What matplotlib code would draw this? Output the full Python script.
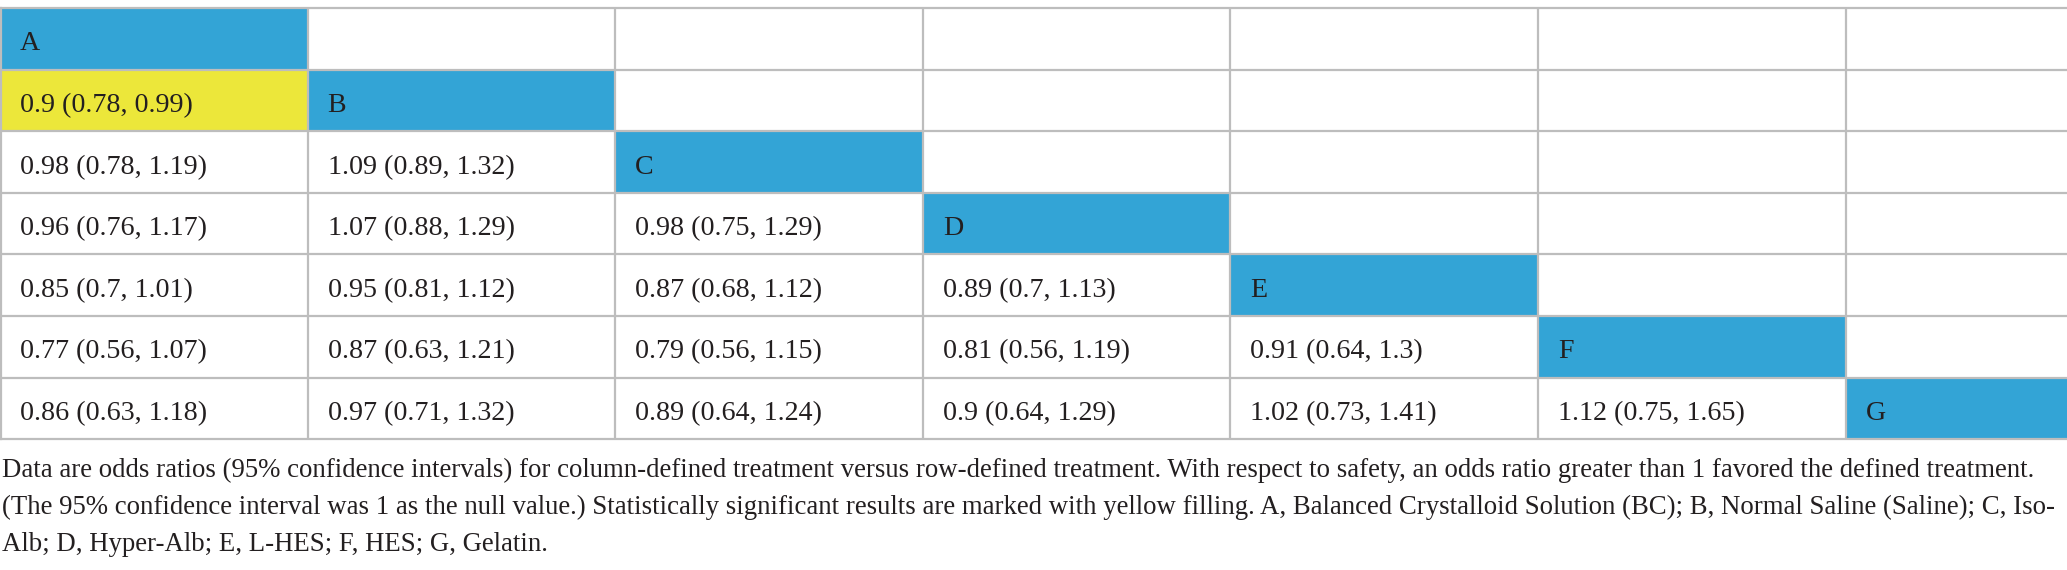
import matplotlib.pyplot as plt
from matplotlib.patches import Rectangle

# treatments (diagonal labels)
tratamentos = ['A', 'B', 'C', 'D', 'E', 'F', 'G']

# odds ratios below the diagonal, one list per row (row B .. row G)
odds = [
    [0.9],
    [0.98, 1.09],
    [0.96, 1.07, 0.98],
    [0.85, 0.95, 0.87, 0.89],
    [0.77, 0.87, 0.79, 0.81, 0.91],
    [0.86, 0.97, 0.89, 0.9, 1.02, 1.12],
]
ic_inf = [
    [0.78],
    [0.78, 0.89],
    [0.76, 0.88, 0.75],
    [0.7, 0.81, 0.68, 0.7],
    [0.56, 0.63, 0.56, 0.56, 0.64],
    [0.63, 0.71, 0.64, 0.64, 0.73, 0.75],
]
ic_sup = [
    [0.99],
    [1.19, 1.32],
    [1.17, 1.29, 1.29],
    [1.01, 1.12, 1.12, 1.13],
    [1.07, 1.21, 1.15, 1.19, 1.3],
    [1.18, 1.32, 1.24, 1.29, 1.41, 1.65],
]

legenda = [
    "Data are odds ratios (95% confidence intervals) for column-defined treatment versus row-defined treatment. "
    "With respect to safety, an odds ratio greater than 1 favored the defined treatment.",
    "(The 95% confidence interval was 1 as the null value.) Statistically significant results are marked with "
    "yellow filling. A, Balanced Crystalloid Solution (BC); B, Normal Saline (Saline); C, Iso-",
    "Alb; D, Hyper-Alb; E, L-HES; F, HES; G, Gelatin.",
]

AZUL = '#33A4D6'
AMARELO = '#ECE73A'
GRADE = '#BDBDBD'
FONTE = 'Liberation Serif'

W, H = 2067, 570
fig = plt.figure(figsize=(W / 100, H / 100), dpi=100)
ax = fig.add_axes([0, 0, 1, 1])
ax.set_xlim(0, W)
ax.set_ylim(H, 0)
ax.axis('off')

# table layout in pixels
topo = 8
alt_linha = 61.6
larg_col = 307.6
n = len(tratamentos)
xs = [i * larg_col for i in range(n)] + [W]
ys = [topo + i * alt_linha for i in range(n + 1)]
pad = 20


def celula(lin, col, texto, cor=None):
    if cor:
        ax.add_patch(Rectangle((xs[col], ys[lin]), xs[col + 1] - xs[col], alt_linha,
                               facecolor=cor, edgecolor='none', zorder=1))
    ax.text(xs[col] + pad, ys[lin] + 42.5, texto, fontsize=20.2, family=FONTE,
            color='#231F20', va='baseline', ha='left', zorder=3)


for i, t in enumerate(tratamentos):
    celula(i, i, t, AZUL)

for r, linha in enumerate(odds):
    for c, v in enumerate(linha):
        lo, hi = ic_inf[r][c], ic_sup[r][c]
        signif = hi < 1 or lo > 1
        celula(r + 1, c, f"{v:g} ({lo:g}, {hi:g})", AMARELO if signif else None)

for y in ys:
    ax.plot([0, W], [y, y], color=GRADE, lw=1.6, zorder=2, solid_capstyle='butt')
for x in xs[1:-1]:
    ax.plot([x, x], [ys[0], ys[-1]], color=GRADE, lw=1.6, zorder=2, solid_capstyle='butt')
ax.plot([0.8, 0.8], [ys[0], ys[-1]], color=GRADE, lw=1.6, zorder=2)

for k, txt in enumerate(legenda):
    ax.text(2, 477 + k * 37, txt, fontsize=19.3, family=FONTE, color='#231F20',
            va='baseline', ha='left')

fig.savefig('out.png', dpi=100)
